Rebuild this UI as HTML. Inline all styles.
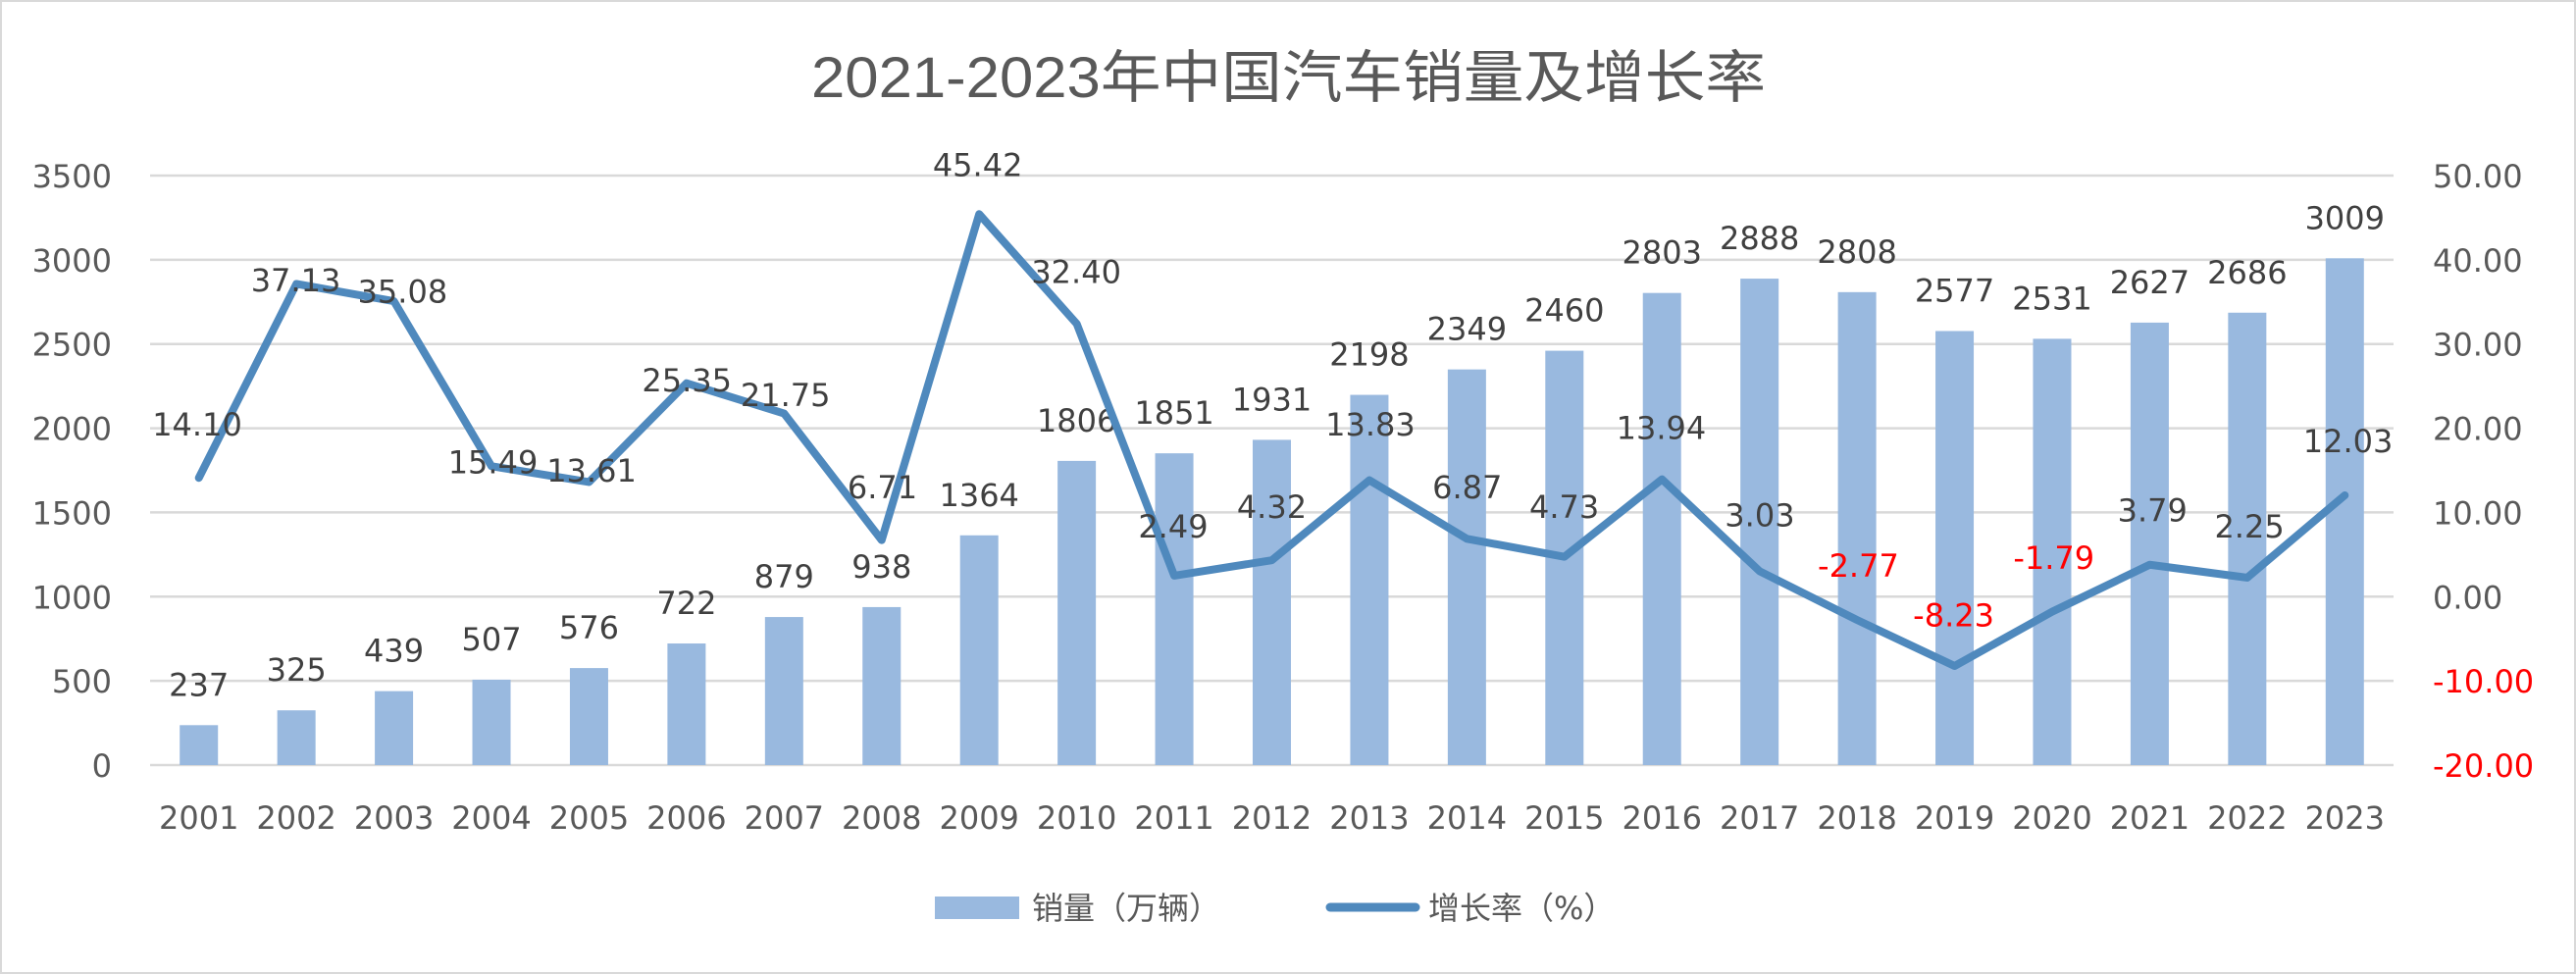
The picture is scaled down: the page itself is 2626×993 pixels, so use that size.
<!DOCTYPE html>
<html><head><meta charset="utf-8">
<style>
html,body{margin:0;padding:0;background:#fff;}
svg{display:block;}
text{font-family:"DejaVu Sans","Noto Sans CJK SC",sans-serif;}
</style></head>
<body>
<svg id="c" width="2626" height="993" xmlns="http://www.w3.org/2000/svg">
<rect x="1" y="1" width="2624" height="991" fill="#fff" stroke="#d9d9d9" stroke-width="2"/>
<text x="827" y="99" textLength="973" lengthAdjust="spacingAndGlyphs" font-size="58" fill="#595959" style="font-family:'Liberation Sans','Noto Sans CJK SC',sans-serif">2021-2023年中国汽车销量及增长率</text>
<g id="g"></g>
<rect x="953" y="914" width="86" height="23" fill="#99b9df"/>
<text x="1052" y="937" font-size="32" fill="#595959">销量（万辆）</text>
<line x1="1356" y1="925" x2="1443" y2="925" stroke="#4f89bd" stroke-width="9" stroke-linecap="round"/>
<text x="1456" y="937" font-size="32" fill="#595959">增长率（%）</text>
</svg>
<script>
var g=document.getElementById('g');var s='';
var L=153,R=2440,T=179,B=780,cw=(R-L)/23;
for(var i=0;i<=7;i++){var y=B-i*(B-T)/7;
 s+='<line x1="'+L+'" y1="'+y+'" x2="'+R+'" y2="'+y+'" stroke="#d9d9d9" stroke-width="2.5"/>';
 s+='<text x="114" y="'+(y+12)+'" text-anchor="end" font-size="32" fill="#595959">'+(i*500)+'</text>';
 var v=-20+i*10;
 s+='<text x="2480" y="'+(y+12)+'" font-size="32" fill="'+(v<0?'#ff0000':'#595959')+'">'+v.toFixed(2)+'</text>';}
var sales=[237,325,439,507,576,722,879,938,1364,1806,1851,1931,2198,2349,2460,2803,2888,2808,2577,2531,2627,2686,3009];
var gr=[14.10,37.13,35.08,15.49,13.61,25.35,21.75,6.71,45.42,32.40,2.49,4.32,13.83,6.87,4.73,13.94,3.03,-2.77,-8.23,-1.79,3.79,2.25,12.03];
var lp=[[120,258],[180,170],[245,177],[300,281],[360,286],[418,231],[478,240],[537,296],[595,100],[655,165],[714,320],[774,308],[834,258],[893,296],[952,308],[1011,260],[1071,313],[1131,344],[1189,374],[1250,339],[1310,310],[1369,320],[1429,268]];
var pts=[];
for(var i=0;i<23;i++){var cx=L+cw*(i+0.5);
 var h=sales[i]*(B-T)/3500;
 s+='<rect x="'+(cx-19.5)+'" y="'+(B-h)+'" width="39" height="'+h+'" fill="#99b9df"/>';
 s+='<text x="'+cx+'" y="'+(B-h-30)+'" text-anchor="middle" font-size="32" fill="#404040">'+sales[i]+'</text>';
 s+='<text x="'+cx+'" y="'+845+'" text-anchor="middle" font-size="32" fill="#595959">'+(2001+i)+'</text>';
 pts.push(cx+','+(B-(gr[i]+20)*(B-T)/70));}
s+='<polyline points="'+pts.join(' ')+'" fill="none" stroke="#4f89bd" stroke-width="8" stroke-linejoin="round" stroke-linecap="round"/>';
for(var i=0;i<23;i++){var cx=lp[i][0]*1.675;
 s+='<text x="'+cx+'" y="'+(lp[i][1]*1.675+12)+'" text-anchor="middle" font-size="32" fill="'+(gr[i]<0?'#ff0000':'#404040')+'">'+gr[i].toFixed(2)+'</text>';}
g.innerHTML=s;
</script>
</body></html>
